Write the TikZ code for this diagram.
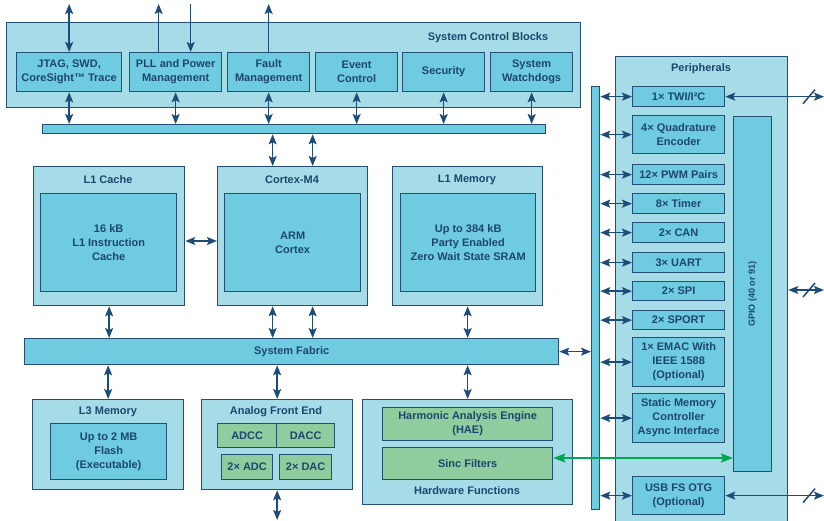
\documentclass[tikz,border=0pt]{standalone}
\usepackage{fontspec}
\setmainfont{Liberation Sans}
\usetikzlibrary{arrows.meta,calc}
\definecolor{outerc}{RGB}{166,220,232}
\definecolor{innerc}{RGB}{110,203,224}
\definecolor{bdc}{RGB}{36,78,115}
\definecolor{txc}{RGB}{30,70,110}
\definecolor{grnc}{RGB}{143,204,158}
\definecolor{garr}{RGB}{0,166,81}
\definecolor{arrc}{RGB}{30,76,120}
\begin{document}
\begin{tikzpicture}[x=1pt,y=-1pt,
  every node/.style={font=\fontsize{11}{14}\selectfont\bfseries, text=txc, align=center, inner sep=0pt},
  outerbox/.style={draw=bdc, line width=1.3pt, fill=outerc, anchor=north west},
  innerbox/.style={draw=bdc, line width=1.3pt, fill=innerc, anchor=north west},
  greenbox/.style={draw=bdc, line width=1.3pt, fill=grnc, anchor=north west},
  conn/.style={draw=arrc, line width=1.5pt},
  tip/.tip={Stealth[length=10pt,width=8pt,inset=2pt]},
  dbl/.style={conn, tip-tip},
  fwd/.style={conn, -tip},
  gdbl/.style={draw=garr, line width=1.8pt, {Stealth[length=12pt,width=9pt,inset=2pt]}-{Stealth[length=12pt,width=9pt,inset=2pt]}},
]
\useasboundingbox (0,0) rectangle (824,521);
\fill[white] (0,0) rectangle (824,521);

% System control blocks
\node[outerbox, minimum width=574pt, minimum height=85pt] (scb) at (6,22) {};
\node (scbt) at (488,38) {System Control Blocks};
\node[innerbox, minimum width=105pt, minimum height=39pt] (jtag) at (16,52) {JTAG, SWD,\\CoreSight™ Trace};
\node[innerbox, minimum width=92pt, minimum height=39pt] (pll) at (129,52) {PLL and Power\\Management};
\node[innerbox, minimum width=82pt, minimum height=39pt] (fault) at (227,52) {Fault\\Management};
\node[innerbox, minimum width=82pt, minimum height=39pt] (event) at (315,52) {Event\\Control};
\node[innerbox, minimum width=82pt, minimum height=39pt] (sec) at (402,52) {Security};
\node[innerbox, minimum width=82pt, minimum height=39pt] (wdog) at (490,52) {System\\Watchdogs};
\node[innerbox, minimum width=503pt, minimum height=9pt] (hbar) at (42,124) {};

% Core row
\node[outerbox, minimum width=151pt, minimum height=139pt] (l1c) at (33,166) {};
\node (l1ct) at (108,180) {L1 Cache};
\node[innerbox, minimum width=136pt, minimum height=98pt] (l1ci) at (40,193) {16 kB\\L1 Instruction\\Cache};
\node[outerbox, minimum width=150pt, minimum height=139pt] (cortex) at (217,166) {};
\node (cortext) at (292,180) {Cortex-M4};
\node[innerbox, minimum width=136pt, minimum height=98pt] (cortexi) at (224,193) {ARM\\Cortex};
\node[outerbox, minimum width=150pt, minimum height=139pt] (l1m) at (392,166) {};
\node (l1mt) at (467,180) {L1 Memory};
\node[innerbox, minimum width=135pt, minimum height=98pt] (l1mi) at (400,193) {Up to 384 kB\\Party Enabled\\Zero Wait State SRAM};

% Fabric
\node[innerbox, minimum width=534pt, minimum height=26pt] (fabric) at (24,338) {System Fabric};

% Bottom row
\node[outerbox, minimum width=151pt, minimum height=90pt] (l3) at (32,399) {};
\node (l3t) at (108,412) {L3 Memory};
\node[innerbox, minimum width=116pt, minimum height=56pt] (l3i) at (50,423) {Up to 2 MB\\Flash\\(Executable)};
\node[outerbox, minimum width=151pt, minimum height=90pt] (afe) at (201,399) {};
\node (afet) at (276,412) {Analog Front End};
\node[greenbox, minimum width=59pt, minimum height=24pt] (adcc) at (217,423) {ADCC};
\node[greenbox, minimum width=58pt, minimum height=24pt] (dacc) at (276,423) {DACC};
\node[greenbox, minimum width=51pt, minimum height=25pt] (adc) at (221,454) {2× ADC};
\node[greenbox, minimum width=52pt, minimum height=25pt] (dac) at (279,454) {2× DAC};
\node[outerbox, minimum width=210pt, minimum height=105pt] (hw) at (362,399) {};
\node[greenbox, minimum width=170pt, minimum height=33pt] (hae) at (382,407) {Harmonic Analysis Engine\\(HAE)};
\node[greenbox, minimum width=170pt, minimum height=32pt] (sinc) at (382,447) {Sinc Filters};
\node (hwt) at (467,491) {Hardware Functions};

% Bus and peripherals
\node[innerbox, minimum width=8pt, minimum height=423pt] (bus) at (591,86) {};
\node[outerbox, minimum width=172pt, minimum height=470pt] (per) at (615,56) {};
\node (pert) at (701,69) {Peripherals};
\node[innerbox, minimum width=38pt, minimum height=355pt] (gpio) at (733,116) {};
\node[rotate=90, font=\fontsize{9}{11}\selectfont\bfseries] (gpiot) at (gpio.center) {GPIO (40 or 91)};
\node[innerbox, minimum width=92pt, minimum height=20pt] (twi) at (632,86) {1× TWI/I²C};
\node[innerbox, minimum width=92pt, minimum height=38pt] (quad) at (632,115) {4× Quadrature\\Encoder};
\node[innerbox, minimum width=92pt, minimum height=20pt] (pwm) at (632,164) {12× PWM Pairs};
\node[innerbox, minimum width=92pt, minimum height=20pt] (timer) at (632,193) {8× Timer};
\node[innerbox, minimum width=92pt, minimum height=20pt] (can) at (632,222) {2× CAN};
\node[innerbox, minimum width=92pt, minimum height=20pt] (uart) at (632,252) {3× UART};
\node[innerbox, minimum width=92pt, minimum height=19pt] (spi) at (632,281) {2× SPI};
\node[innerbox, minimum width=92pt, minimum height=19pt] (sport) at (632,310) {2× SPORT};
\node[innerbox, minimum width=92pt, minimum height=49pt] (emac) at (632,337) {1× EMAC With\\IEEE 1588\\(Optional)};
\node[innerbox, minimum width=92pt, minimum height=49pt] (smc) at (632,393) {Static Memory\\Controller\\Async Interface};
\node[innerbox, minimum width=92pt, minimum height=38pt] (usb) at (632,476) {USB FS OTG\\(Optional)};

% Connectors
\coordinate (topy) at (0,4);
\coordinate (boty) at (0,520);
\coordinate (pu) at ($(pll.north)+(-17,0)$);
\coordinate (pd) at ($(pll.north)+(15,0)$);
\draw[dbl] (jtag.north |- topy) -- (jtag.north);
\draw[fwd] (pu) -- (pu |- topy);
\draw[fwd] (pd |- topy) -- (pd);
\draw[fwd] (fault.north) -- (fault.north |- topy);
\foreach \n in {jtag,pll,fault,event,sec,wdog}
  \draw[dbl] (\n.south) -- (\n.south |- hbar.north);
\coordinate (ca) at ($(cortex.north)+(-20,0)$);
\coordinate (cb) at ($(cortex.north)+(20,0)$);
\draw[dbl] (ca |- hbar.south) -- (ca);
\draw[dbl] (cb |- hbar.south) -- (cb);
\coordinate (cc) at (0,241);
\draw[dbl] (l1c.east |- cc) -- (cortex.west |- cc);
\draw[dbl] (l1c.south) -- (l1c.south |- fabric.north);
\draw[dbl] (ca |- cortex.south) -- (ca |- fabric.north);
\draw[dbl] (cb |- cortex.south) -- (cb |- fabric.north);
\draw[dbl] (l1m.south) -- (l1m.south |- fabric.north);
\draw[dbl] (fabric.south -| l3.north) -- (l3.north);
\draw[dbl] (fabric.south -| afe.north) -- (afe.north);
\draw[dbl] (fabric.south -| hw.north) -- (hw.north);
\draw[dbl] (afe.south) -- (afe.south |- boty);
\draw[dbl] (fabric.east) -- (fabric.east -| bus.west);
\foreach \n in {twi,quad,pwm,timer,can,uart,spi,sport,emac,smc,usb}
  \draw[dbl] (\n.west -| bus.east) -- (\n.west);
\coordinate (re) at (824,0);
\coordinate (sl) at (809,0);
\coordinate (gy) at (0,290);
\draw[dbl] (twi.east) -- (twi.east -| re);
\draw[dbl] (per.east |- gy) -- (re |- gy);
\draw[dbl] (usb.east) -- (usb.east -| re);
\coordinate (s1) at (sl |- twi.east);
\coordinate (s2) at (sl |- gy);
\coordinate (s3) at (sl |- usb.east);
\foreach \s in {s1,s2,s3}
  \draw[conn] ($(\s)+(-6,7)$) -- ($(\s)+(6,-7)$);
\coordinate (gg) at (0,458);
\draw[gdbl] (sinc.east |- gg) -- (gpio.west |- gg);
\end{tikzpicture}
\end{document}
